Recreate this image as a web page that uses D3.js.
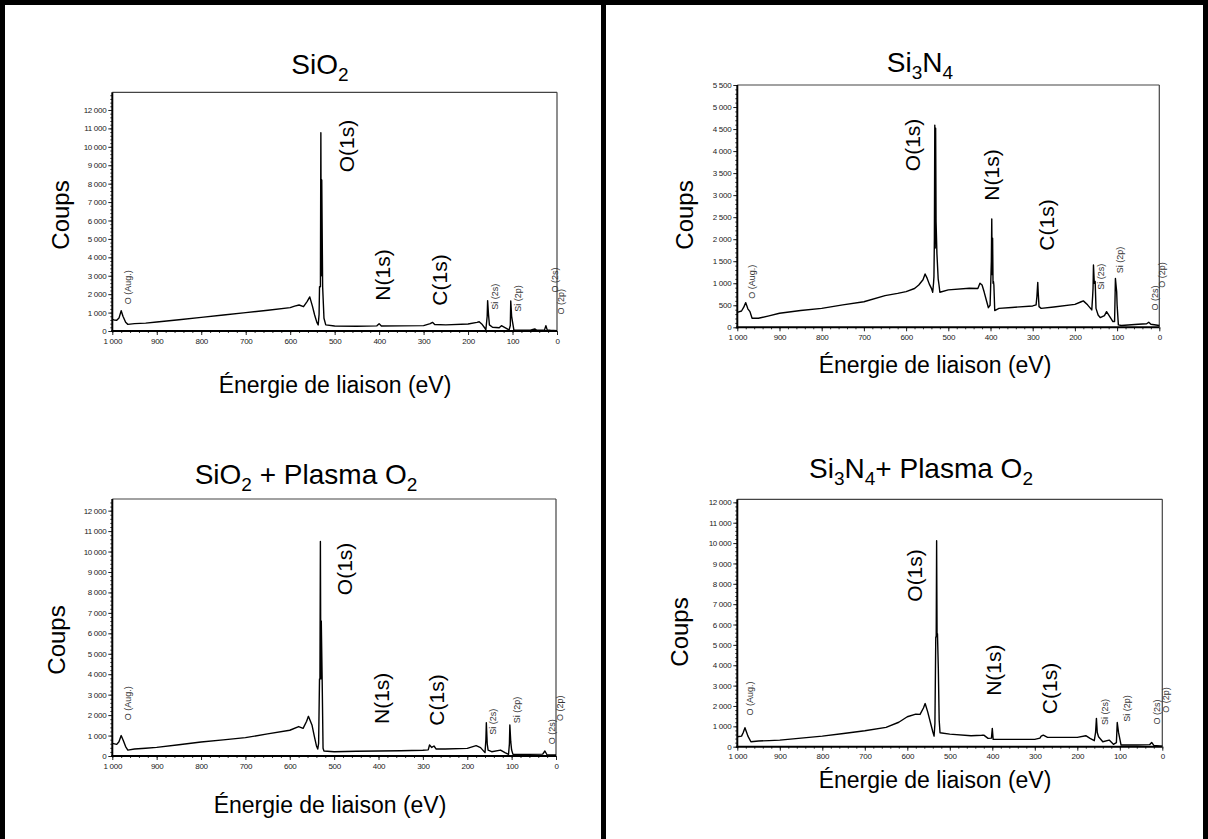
<!DOCTYPE html>
<html><head><meta charset="utf-8">
<script src="https://cdn.jsdelivr.net/npm/d3@7"></script>
<style>
body{margin:0;background:#fff}
svg{display:block}
text{font-family:Arial,"Liberation Sans",Helvetica,sans-serif}
</style>
</head><body>
<svg id="c" width="1208" height="839"></svg>
<script>
// ---------- DATA (binding energy in eV, counts) ----------
const sio2Energy = [1000,995,990,985,980,976,970,965,950,925,900,850,800,750,700,650,600,590,580,570,562,556,550,545,540,537,535,534,532,531,530,529,527,524,520,500,450,405,400,395,350,300,285,280,275,250,200,180,175,168,162,160,157,156,154,152,145,130,125,118,112,108,105,104,102,100,97,90,60,50,45,28,25,22,15,0];
const sio2Counts = [630,590,580,700,1100,800,470,360,400,430,490,610,740,870,1000,1130,1270,1350,1410,1320,1600,1850,1350,870,470,330,900,2400,2400,10770,3000,8200,2400,690,330,270,260,280,400,270,280,290,400,470,350,330,380,470,500,350,150,55,800,1650,900,330,200,180,290,200,120,40,300,1630,800,500,55,40,50,110,40,60,290,60,40,20];

const si3n4Energy = [1000,990,985,980,975,970,965,950,925,900,850,800,750,700,650,620,600,580,570,560,555,550,545,540,537,535,534,533,532,531,530,529,527,524,522,520,500,450,430,425,420,415,410,405,401,400,398,397,396,395,394,393,392,390,380,350,300,292,290,288,287,285,280,250,200,185,180,170,160,158,157,156,154,152,150,145,140,130,125,120,110,106,105,104,102,101,100,97,90,50,30,25,20,0];
const si3n4Counts = [340,370,450,560,420,355,205,205,260,320,380,430,510,580,720,770,810,880,960,1080,1210,1110,980,885,795,1000,1150,2000,4590,1800,4520,2400,1680,1100,960,795,850,885,880,1000,960,800,620,445,500,810,1500,2460,1200,2020,1000,1040,960,380,430,450,485,510,700,1020,800,470,430,460,520,580,600,510,395,700,885,1415,1000,1040,430,280,220,265,355,280,130,130,600,1110,900,810,510,55,40,70,80,115,70,40];

const sio2PlasmaEnergy = [1000,990,985,980,975,970,965,950,925,900,850,800,750,700,650,600,580,570,562,558,550,545,540,537,535,533,532,531,530,529,527,525,523,500,450,400,350,300,288,285,280,275,270,250,200,180,170,160,158,157,155,153,145,125,115,107,105,104,102,100,97,60,30,25,20,0];
const sio2PlasmaCounts = [620,570,700,1000,750,460,290,340,380,420,550,685,790,900,1080,1260,1440,1350,1700,1940,1520,1000,505,340,620,3770,3770,10490,3770,6600,3720,375,245,210,230,245,260,280,300,540,420,490,340,340,375,505,410,165,800,1630,600,290,210,290,165,80,600,1520,700,290,80,80,90,245,50,50];

const si3n4PlasmaEnergy = [1000,990,986,982,978,975,968,950,925,900,850,800,750,700,650,620,600,580,570,562,558,552,545,540,537,535,533,532,531,530,529,527,525,523,500,450,425,420,410,402,400,398,350,300,288,285,280,270,200,180,170,160,157,155,153,150,140,125,115,108,106,103,101,97,60,30,25,20,0];
const si3n4PlasmaCounts = [490,520,700,930,700,520,245,280,300,325,420,520,650,785,950,1200,1470,1600,1585,1900,2120,1710,1140,735,520,1140,5390,5390,10120,5550,5550,3840,1305,685,620,540,560,570,410,420,900,360,360,360,420,520,570,460,460,540,410,295,700,1390,700,490,245,325,115,200,1190,700,490,80,80,100,210,65,30];

const xTicks = [1000,900,800,700,600,500,400,300,200,100,0];
const peakNames = ["O(1s)","N(1s)","C(1s)"];
const smallNames = ["O (Aug.)","Si (2s)","Si (2p)","O (2s)","O (2p)"];
const titles = [
  [["SiO",0],["2",1]],
  [["Si",0],["3",1],["N",0],["4",1]],
  [["SiO",0],["2",1],[" + Plasma O",0],["2",1]],
  [["Si",0],["3",1],["N",0],["4",1],["+ Plasma O",0],["2",1]]
];
const yLabel = "Coups";
const xLabel = "Énergie de liaison (eV)";

// ---------- LAYOUT ----------
const panels = [
  {energy:sio2Energy, counts:sio2Counts, yMax:12960, yStep:1000,
   box:{l:112.3,r:557,t:92.3,b:331}, titleX:320, titleY:74, coupsX:69, coupsY:215, xTitleX:335, xTitleY:393,
   peaks:[[473,10040],[392,3040],[263,2770]],
   small:[[964,2370],[139,1860],[87,1770],[4,2770],[-10,1590]]},
  {energy:si3n4Energy, counts:si3n4Counts, yMax:5500, yStep:500,
   box:{l:737.3,r:1159.3,t:85,b:327.3}, titleX:920, titleY:72, coupsX:693, coupsY:215, xTitleX:935, xTitleY:373,
   peaks:[[583,4140],[397,3457],[267,2322]],
   small:[[966,1035],[137,1148],[93,1527],[10,665],[-6,1187]]},
  {energy:sio2PlasmaEnergy, counts:sio2PlasmaCounts, yMax:12570, yStep:1000,
   box:{l:112.3,r:556,t:499,b:756}, titleX:306, titleY:484, coupsX:65, coupsY:640, xTitleX:330, xTitleY:813,
   peaks:[[475,9150],[393,2820],[269,2740]],
   small:[[965,2580],[141,1680],[88,2250],[10,1190],[-9,2330]]},
  {energy:si3n4PlasmaEnergy, counts:si3n4PlasmaCounts, yMax:12150, yStep:1000,
   box:{l:737.3,r:1162.3,t:499.3,b:746.7}, titleX:921, titleY:478, coupsX:688, coupsY:632, xTitleX:935, xTitleY:788,
   peaks:[[582,8410],[395,3760],[264,2860]],
   small:[[970,2370],[135,1710],[84,1880],[12,1710],[-8,2290]]}
];

const svg = d3.select("#c");
svg.append("rect").attr("width",1208).attr("height",839).attr("fill","#fff");

const fmt = v => d3.format(",")(v).replace(/,/g," ");

panels.forEach((p,i)=>{
  const g = svg.append("g");
  const x = d3.scaleLinear().domain([1000,0]).range([p.box.l,p.box.r]);
  const y = d3.scaleLinear().domain([0,p.yMax]).range([p.box.b,p.box.t]);

  // minor ticks
  g.append("g").attr("transform",`translate(0,${p.box.b})`)
    .call(d3.axisBottom(x).tickValues(d3.range(0,1001,20)).tickSize(2).tickFormat(""))
    .call(s=>s.select(".domain").remove())
    .selectAll("line").attr("stroke","#333");
  g.append("g").attr("transform",`translate(${p.box.l},0)`)
    .call(d3.axisLeft(y).tickValues(d3.range(0,p.yMax,p.yStep/5)).tickSize(2).tickFormat(""))
    .call(s=>s.select(".domain").remove())
    .selectAll("line").attr("stroke","#333");

  // major axes
  const xa = g.append("g").attr("transform",`translate(0,${p.box.b})`)
    .call(d3.axisBottom(x).tickValues(xTicks).tickSize(4).tickPadding(3).tickFormat(fmt));
  xa.select(".domain").remove();
  xa.selectAll("text").attr("font-size",8).attr("font-family","Arial").attr("fill","#222").attr("letter-spacing",-0.3);
  xa.selectAll("line").attr("stroke","#222");

  const ya = g.append("g").attr("transform",`translate(${p.box.l},0)`)
    .call(d3.axisLeft(y).tickValues(d3.range(0,p.yMax+1,p.yStep)).tickSize(4).tickPadding(2).tickFormat(fmt));
  ya.select(".domain").remove();
  ya.selectAll("text").attr("font-size",8).attr("font-family","Arial").attr("fill","#222").attr("letter-spacing",-0.3);
  ya.selectAll("line").attr("stroke","#222");

  // frame
  g.append("line").attr("x1",p.box.l).attr("x2",p.box.r).attr("y1",p.box.t).attr("y2",p.box.t).attr("stroke","#444").attr("stroke-width",1.2);
  g.append("line").attr("x1",p.box.r).attr("x2",p.box.r).attr("y1",p.box.t).attr("y2",p.box.b).attr("stroke","#444").attr("stroke-width",1.2);
  g.append("line").attr("x1",p.box.l).attr("x2",p.box.l).attr("y1",p.box.t).attr("y2",p.box.b+1).attr("stroke","#000").attr("stroke-width",2);
  g.append("line").attr("x1",p.box.l-1).attr("x2",p.box.r).attr("y1",p.box.b).attr("y2",p.box.b).attr("stroke","#000").attr("stroke-width",2);

  // spectrum
  const pts = p.energy.map((e,k)=>[e,p.counts[k]]);
  g.append("path").datum(pts)
    .attr("d",d3.line().x(d=>x(d[0])).y(d=>y(d[1])))
    .attr("fill","none").attr("stroke","#000").attr("stroke-width",1.4).attr("stroke-linejoin","round");

  // peak labels
  p.peaks.forEach((pk,k)=>{
    g.append("text").attr("transform",`translate(${x(pk[0])+7},${y(pk[1])}) rotate(-90)`)
      .attr("text-anchor","middle").attr("font-size",21).attr("fill","#000").text(peakNames[k]);
  });
  p.small.forEach((pk,k)=>{
    g.append("text").attr("transform",`translate(${x(pk[0])+3},${y(pk[1])}) rotate(-90)`)
      .attr("text-anchor","middle").attr("font-size",9).attr("fill","#333").text(smallNames[k]);
  });

  // titles
  const t = g.append("text").attr("x",p.titleX).attr("y",p.titleY).attr("text-anchor","middle").attr("font-size",28).attr("fill","#000");
  let sub=false;
  titles[i].forEach(([s,isSub])=>{
    const ts = t.append("tspan").text(s);
    if(isSub){ ts.attr("font-size",19).attr("dy", sub?0:7); sub=true; }
    else { if(sub) ts.attr("dy",-7); sub=false; }
  });

  g.append("text").attr("transform",`translate(${p.coupsX},${p.coupsY}) rotate(-90)`)
    .attr("text-anchor","middle").attr("font-size",24).attr("fill","#000").text(yLabel);
  g.append("text").attr("x",p.xTitleX).attr("y",p.xTitleY).attr("text-anchor","middle")
    .attr("font-size",23).attr("fill","#000").text(xLabel);
});

// outer frame lines
const bw = 5;
svg.append("line").attr("x1",0).attr("x2",1208).attr("y1",2.5).attr("y2",2.5).attr("stroke","#000").attr("stroke-width",bw);
svg.append("line").attr("x1",2.5).attr("x2",2.5).attr("y1",0).attr("y2",839).attr("stroke","#000").attr("stroke-width",bw);
svg.append("line").attr("x1",603.5).attr("x2",603.5).attr("y1",0).attr("y2",839).attr("stroke","#000").attr("stroke-width",bw);
svg.append("line").attr("x1",1205.5).attr("x2",1205.5).attr("y1",0).attr("y2",839).attr("stroke","#000").attr("stroke-width",bw);
</script>
</body></html>
